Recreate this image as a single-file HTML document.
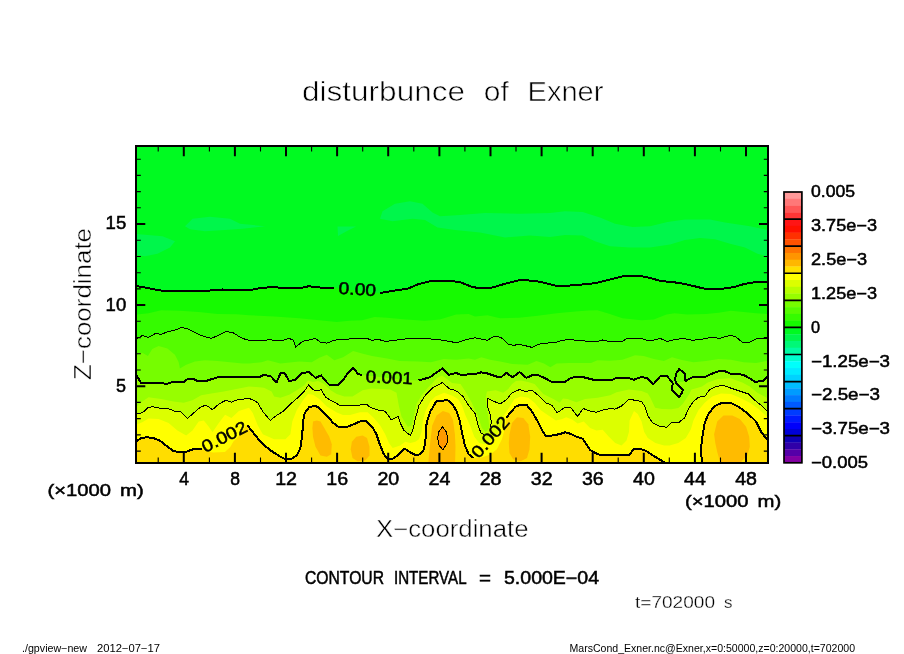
<!DOCTYPE html>
<html lang="en"><head><meta charset="utf-8"><title>disturbunce of Exner</title>
<style>html,body{margin:0;padding:0;background:#fff}body{width:904px;height:654px;overflow:hidden}svg{display:block}text{font-family:"Liberation Sans", sans-serif;fill:#000}.t1{stroke:#fff;stroke-width:.6px}.t2{stroke:#fff;stroke-width:.45px}.t3{stroke:#fff;stroke-width:.3px}.b{stroke:#000;stroke-width:.5px}.lab{font-size:17px;stroke:#000;stroke-width:.5px}</style>
</head><body>
<svg width="904" height="654" viewBox="0 0 904 654">
<rect width="904" height="654" fill="#fff"/>
<defs><clipPath id="pc"><rect x="136" y="146" width="632" height="317"/></clipPath></defs>
<g clip-path="url(#pc)" stroke-linejoin="round" stroke-linecap="butt">
<rect x="130" y="140" width="645" height="330" fill="#00fa21"/>
<path d="M135.0,233.8L162.5,236.2L175.0,241.2L170.0,247.5L157.5,253.8L145.0,256.2L135.0,255.0Z" fill="#00f64b"/>
<path d="M185.0,226.2L192.5,218.8L210.0,216.8L230.0,218.8L240.0,223.8L265.0,226.2L242.5,228.8L225.0,230.0L205.0,231.2L190.0,229.2Z" fill="#00f64b"/>
<path d="M337.5,226.5L356.0,226.5L347.0,231.0L338.0,236.0Z" fill="#00f64b"/>
<path d="M380.0,218.8L382.5,211.2L395.0,203.8L410.0,201.2L422.5,203.8L432.5,212.5L440.0,216.2L460.0,215.0L485.0,213.0L520.0,213.8L550.0,213.0L565.0,211.2L582.5,212.0L600.0,217.5L615.0,223.8L632.5,227.0L650.0,226.2L667.5,222.0L685.0,219.5L710.0,219.5L725.0,222.5L750.0,226.2L770.0,230.5L770.0,257.0L757.5,253.8L745.0,247.5L730.0,243.8L715.0,239.2L700.0,238.0L685.0,240.0L670.0,244.5L650.0,247.5L630.0,247.5L610.0,246.2L595.0,241.2L582.5,235.5L565.0,235.0L550.0,237.0L530.0,235.5L505.0,237.5L480.0,232.5L455.0,230.0L437.5,227.5L425.0,220.0L412.5,218.8L392.5,221.2Z" fill="#00f64b"/>
<path d="M130.0,286.2L137.0,286.2L145.0,287.5L155.0,289.5L165.0,291.2L180.0,290.8L195.0,291.2L210.0,290.5L222.5,289.5L230.0,290.5L250.0,290.0L260.0,288.2L272.5,287.0L285.0,288.2L300.0,288.2L308.8,286.2L320.0,287.5L333.8,287.5L345.0,289.0L360.0,291.0L370.0,292.5L380.0,293.0L395.0,290.5L407.5,288.8L417.5,284.5L430.0,281.2L447.5,280.8L460.0,282.0L470.0,286.2L477.5,288.0L492.5,287.5L505.0,283.8L520.0,280.0L535.0,280.8L545.0,283.0L556.0,285.8L565.0,285.8L577.5,285.0L595.0,283.2L610.0,279.5L625.0,275.8L640.0,275.8L650.0,278.0L660.0,280.8L680.0,283.0L692.5,285.8L705.0,288.8L722.5,288.8L735.0,286.8L745.0,283.8L757.5,281.8L767.0,282.5L775.0,282.5L775.0,475.0L130.0,475.0Z" fill="#16fa00"/>
<path d="M130.0,314.5L137.0,314.5L148.5,313.3L161.1,310.2L179.9,310.8L198.7,312.0L217.6,313.9L236.4,314.3L249.0,315.2L274.1,316.4L299.2,318.3L324.3,320.8L336.8,322.1L349.4,320.8L362.0,320.2L374.5,317.1L387.1,317.7L405.9,319.6L424.7,320.8L439.8,319.6L456.1,314.5L468.7,313.9L475.0,316.4L487.5,315.2L500.1,318.3L518.9,317.7L537.7,315.8L556.6,313.3L575.4,311.4L588.0,310.5L597.4,310.2L609.9,313.9L622.5,318.3L641.3,320.2L653.8,319.6L666.4,314.5L674.5,313.3L687.1,314.5L705.9,313.9L718.5,312.7L731.0,310.8L743.6,312.0L756.1,313.3L767.0,313.9L775.0,313.9L775.0,475.0L130.0,475.0Z" fill="#35fb00"/>
<path d="M130.0,338.4L137.0,338.4L142.3,335.6L148.5,337.5L155.4,333.4L161.1,334.4L167.4,331.9L174.9,330.2L181.2,327.5L187.4,328.6L193.7,331.9L201.2,335.6L211.3,338.4L218.8,335.2L225.7,331.5L232.6,332.5L240.1,337.1L245.2,339.3L249.0,340.3L266.6,340.3L267.8,339.3L274.1,340.3L284.1,340.0L289.2,338.4L293.5,340.3L295.7,347.2L302.3,341.5L309.2,339.9L315.5,338.4L320.5,342.2L326.8,343.2L331.8,341.1L338.1,339.4L349.4,339.0L351.9,338.4L362.0,338.4L367.0,338.4L372.0,340.3L378.3,339.4L385.8,341.5L393.4,340.3L400.9,339.6L408.4,338.4L424.7,338.6L437.3,339.4L446.1,340.9L454.8,342.4L459.9,341.9L466.1,339.6L475.0,337.8L481.3,339.0L487.5,340.3L493.8,336.5L500.1,337.1L503.9,339.6L508.2,344.4L513.9,345.3L518.9,344.4L525.2,345.7L532.1,347.4L537.7,344.7L542.8,343.2L554.0,342.8L562.8,340.3L569.1,339.3L575.4,340.3L586.1,341.1L598.6,341.1L602.4,340.0L607.4,341.1L622.5,341.1L627.5,338.4L641.3,338.4L646.3,340.0L653.8,340.0L660.1,338.4L667.0,341.5L674.5,339.6L683.3,338.4L692.1,340.3L703.4,339.0L712.2,337.1L719.7,338.4L730.4,335.2L736.0,337.1L742.3,342.2L749.8,342.2L756.1,338.8L767.0,338.1L775.0,338.1L775.0,475.0L130.0,475.0Z" fill="#55fc00"/>
<path d="M130.0,354.7L137.0,354.7L142.3,352.8L147.9,355.9L152.3,349.0L158.6,345.9L167.4,348.4L174.9,354.7L178.7,362.2L179.9,368.5L186.2,364.7L195.0,361.6L205.0,360.3L217.6,361.0L230.1,362.2L242.6,363.5L249.0,363.5L261.5,362.2L267.8,360.3L280.4,363.5L299.2,361.6L311.7,362.2L319.3,357.8L326.8,354.7L334.3,360.3L343.1,357.2L353.1,350.9L362.0,353.4L372.0,355.9L387.1,358.5L399.6,361.0L418.5,361.6L431.0,362.2L443.6,359.1L456.1,359.7L468.7,358.5L475.0,359.7L481.3,357.2L490.1,359.7L500.1,361.6L512.6,364.1L527.7,364.7L536.5,361.0L544.0,363.5L550.3,367.2L556.6,363.5L569.1,362.9L578.5,362.9L591.1,362.9L597.4,360.3L609.9,360.7L622.5,359.7L635.0,355.3L643.8,355.9L653.8,359.1L663.9,361.0L672.0,357.2L680.8,359.7L693.4,362.2L705.9,361.0L718.5,359.1L731.0,359.7L743.6,362.2L756.1,362.9L767.0,361.0L775.0,361.0L775.0,475.0L130.0,475.0Z" fill="#76fd00"/>
<path d="M130.0,376.0L137.0,376.0L141.0,382.9L148.5,382.9L152.3,383.5L161.1,382.9L166.1,384.0L173.6,381.7L183.7,382.3L187.4,379.2L193.7,379.2L197.5,381.0L206.3,381.0L211.3,379.2L218.8,377.0L231.4,376.7L249.0,377.0L260.3,376.7L263.4,375.1L270.3,375.8L276.6,382.3L280.4,373.5L284.8,373.3L289.2,381.0L295.4,379.8L301.7,373.3L309.2,372.0L315.5,377.9L321.1,375.4L326.8,382.3L329.5,385.0L338.1,385.0L343.1,379.8L348.1,372.9L353.5,367.9L358.2,374.1L362.0,375.1L380.0,377.0L400.0,379.5L418.5,380.4L429.8,377.3L436.0,372.9L442.3,368.5L448.6,374.8L456.1,372.9L461.1,374.8L475.0,374.1L481.3,372.3L487.5,373.5L498.8,377.3L501.3,377.0L506.4,372.9L512.6,377.3L519.5,372.0L526.4,377.9L532.7,375.0L539.0,375.4L545.3,378.5L552.8,382.3L564.1,382.3L571.0,377.9L578.5,376.7L583.6,377.3L593.6,379.8L612.4,379.8L616.2,377.9L628.7,377.9L633.7,379.8L641.3,376.9L647.5,378.5L653.2,384.5L660.7,375.7L667.0,376.1L672.7,382.9L684.8,381.4L692.1,377.4L704.7,377.3L710.9,374.1L717.2,371.6L724.7,371.0L729.8,373.5L737.3,374.1L743.6,374.8L749.8,378.5L754.8,381.7L762.4,381.3L767.0,377.3L775.0,377.3L775.0,475.0L130.0,475.0Z" fill="#97fe00"/>
<path d="M130.0,406.0L137.0,406.0L142.3,401.6L148.5,397.2L161.1,399.1L173.6,401.6L183.7,402.8L192.5,400.3L201.2,395.3L211.3,393.4L223.8,391.5L236.4,389.0L249.0,386.5L256.5,387.1L264.0,387.8L271.6,391.5L274.1,396.5L280.4,397.8L289.2,394.7L296.7,390.3L304.2,385.3L308.0,380.5L313.0,382.0L318.0,381.0L324.3,384.0L330.6,390.3L336.8,394.0L344.4,396.5L352.5,396.5L362.6,390.3L371.4,388.4L390.2,389.6L396.5,392.8L399.0,406.6L401.5,416.6L407.8,426.7L411.5,425.4L414.0,415.4L416.5,404.1L421.6,395.3L427.8,387.8L431.6,384.0L437.0,378.0L442.0,375.5L447.0,379.0L452.0,383.0L460.5,384.0L465.5,391.5L471.8,402.8L478.1,416.6L481.9,427.9L485.6,431.7L489.4,427.9L488.1,415.4L485.6,399.1L486.9,391.5L495.7,390.3L503.2,392.8L508.2,389.0L512.0,384.0L516.0,381.0L521.0,380.5L528.0,382.0L534.6,384.0L543.3,394.0L553.4,399.1L559.6,402.8L563.0,398.5L567.5,399.1L576.3,402.2L585.1,399.1L597.6,397.8L610.2,395.3L616.5,392.2L629.0,389.6L641.6,390.9L647.8,393.4L650.5,398.0L655.1,407.7L662.0,409.1L671.4,409.3L678.3,408.0L682.7,404.0L686.0,399.0L689.3,394.0L691.5,389.5L697.1,388.0L702.0,386.4L707.8,382.6L717.8,378.9L730.4,378.2L742.3,382.6L749.8,386.5L757.3,392.8L767.0,397.8L775.0,397.8L775.0,475.0L130.0,475.0Z" fill="#b9ff00"/>
<path d="M130.0,413.5L137.0,413.5L142.3,412.9L147.9,407.8L152.3,406.6L161.1,408.5L169.9,409.1L173.6,411.0L180.5,411.6L187.4,418.5L193.7,412.9L201.2,406.6L206.3,405.3L212.5,409.7L218.8,404.1L225.7,400.3L231.4,402.2L237.6,399.7L249.0,398.4L254.0,400.3L257.8,402.8L262.8,411.6L270.3,420.4L276.6,415.4L282.9,411.6L290.4,404.1L299.2,396.5L304.2,391.5L308.6,385.0L313.0,389.6L316.8,390.9L321.1,389.6L325.5,397.2L330.6,400.3L335.6,402.8L340.6,405.8L356.3,405.6L366.3,404.1L370.1,407.2L377.6,409.9L385.2,411.2L391.4,420.0L398.3,416.5L400.2,422.9L404.0,430.4L410.3,435.4L412.8,430.4L415.3,419.1L419.0,405.3L425.3,395.3L432.8,387.7L442.3,382.6L449.6,389.0L455.2,390.3L458.0,392.2L463.0,396.5L468.1,404.7L475.0,413.5L478.1,425.4L481.2,433.6L484.4,434.5L487.0,437.0L490.6,426.7L491.3,421.6L490.0,414.1L487.5,406.6L487.5,398.4L500.1,404.1L507.0,399.1L512.0,392.8L519.5,389.6L525.8,391.5L532.0,390.3L538.3,395.3L545.8,402.8L552.1,405.3L557.1,412.9L565.0,407.2L570.7,407.6L577.6,416.4L583.2,408.5L590.1,411.0L596.4,412.2L602.7,410.1L610.2,408.5L615.2,409.1L621.5,406.0L629.0,399.3L635.3,400.3L641.6,401.6L645.3,407.2L647.8,416.0L652.8,422.9L659.1,426.0L666.4,427.3L672.0,422.3L678.3,422.9L684.6,417.9L688.3,409.1L693.4,401.6L698.4,397.2L704.7,396.5L709.7,389.6L716.0,386.5L723.5,385.3L729.8,387.8L737.3,390.3L748.6,394.0L754.8,400.3L761.1,405.3L767.0,411.0L775.0,411.0L775.0,475.0L130.0,475.0Z" fill="#dcff00"/>
<path d="M130.0,424.2L137.0,424.2L142.3,422.3L148.5,418.5L158.6,419.1L168.6,422.9L177.4,430.4L186.2,435.4L192.5,430.4L198.7,421.6L203.8,420.4L208.8,426.7L212.5,432.3L218.8,422.9L225.1,414.7L231.4,417.9L238.9,411.0L249.0,407.8L252.8,412.9L257.8,425.4L262.8,434.2L274.1,439.2L285.4,439.2L290.4,434.2L292.3,421.6L296.7,410.3L303.0,400.3L308.0,394.0L313.0,394.7L319.3,399.1L326.8,406.6L336.8,412.5L343.0,415.0L350.0,415.0L360.0,412.3L367.6,412.2L373.9,417.9L380.2,425.4L385.2,434.2L388.9,443.0L392.7,448.0L400.2,445.5L405.2,441.7L410.3,443.0L415.3,441.7L419.0,439.2L421.6,431.7L422.8,421.6L425.3,411.6L430.3,401.6L435.4,396.5L444.1,392.8L453.0,396.0L458.0,399.1L461.8,405.3L465.5,415.4L470.6,426.7L474.3,436.7L479.3,443.0L484.4,444.2L490.0,441.0L495.7,436.7L500.7,427.9L503.2,416.6L508.2,409.1L514.5,399.1L520.8,396.5L528.3,397.8L534.6,402.8L540.8,410.3L548.4,415.4L555.9,420.4L562.2,419.1L566.3,417.2L572.5,419.8L577.6,423.5L583.8,421.6L590.1,427.9L596.4,430.4L602.7,429.8L608.9,436.7L615.2,443.0L621.5,445.5L626.5,440.5L629.0,431.7L629.6,420.4L634.0,411.0L637.8,414.1L641.6,421.6L644.1,431.7L647.8,437.9L655.4,443.0L664.1,445.5L669.5,445.5L678.3,443.0L685.8,437.9L690.9,429.2L693.4,420.4L698.4,410.3L704.7,402.8L712.2,396.5L721.0,393.4L731.0,394.0L739.8,397.8L749.8,402.8L758.6,409.1L767.0,416.6L775.0,416.6L775.0,475.0L130.0,475.0Z" fill="#ffff00"/>
<path d="M130.0,441.1L137.0,441.1L141.0,438.2L146.0,437.3L152.3,437.7L159.8,440.5L166.1,445.5L173.6,451.1L178.7,452.0L186.2,451.7L192.5,449.5L196.0,448.5L201.6,448.5L205.5,451.2L213.2,452.4L224.9,452.0L230.3,447.0L233.4,441.6L238.0,436.9L242.7,431.5L245.8,425.3L247.3,425.6L249.0,427.3L255.3,435.4L262.8,444.2L271.6,451.1L280.4,456.8L286.0,459.3L291.7,458.7L296.7,455.5L300.4,448.0L302.3,434.2L303.0,421.6L304.8,412.9L309.2,407.2L315.5,405.6L320.5,409.1L326.8,415.4L333.1,422.9L339.3,427.5L346.5,427.0L353.8,424.2L360.1,421.4L366.3,421.0L372.6,427.3L376.4,434.2L380.2,445.5L383.9,454.3L387.7,458.7L392.7,458.7L399.0,454.3L404.6,448.6L410.3,452.4L415.3,454.9L420.3,454.3L424.1,449.2L425.9,436.7L426.6,422.9L430.3,411.6L436.6,400.9L447.9,400.3L453.0,405.0L456.8,411.6L459.9,421.6L462.4,434.2L464.9,445.5L468.7,454.3L473.7,458.0L481.9,457.4L490.6,454.3L496.9,449.2L501.9,439.2L505.7,425.4L506.3,417.9L510.7,412.2L515.7,406.6L520.8,404.7L527.0,405.3L532.0,411.6L537.1,420.4L542.1,430.4L545.8,436.1L553.4,435.4L560.0,434.0L565.0,432.3L570.0,433.6L576.3,436.7L582.6,438.6L586.3,444.2L590.1,449.9L595.1,453.0L600.2,454.9L629.0,454.9L634.0,449.2L640.3,449.0L646.6,451.1L652.8,455.5L660.4,459.9L664.8,462.4L668.0,466.0L668.0,472.0L702.0,472.0L702.0,466.0L701.9,462.4L700.9,449.2L702.8,434.2L704.7,422.9L708.4,414.1L714.7,406.0L722.2,402.8L729.8,402.6L737.3,406.0L743.6,410.3L749.8,415.4L756.1,421.6L761.1,431.7L767.0,439.5L775.0,439.5L775.0,475.0L130.0,475.0Z" fill="#ffdd00"/>
<path d="M313.0,421.6L316.8,420.4L320.5,421.6L324.3,427.9L329.3,436.7L331.8,444.2L331.2,454.3L326.8,456.8L320.5,455.5L315.5,446.7L313.0,436.7L312.4,427.9Z" fill="#ffbb00"/>
<path d="M350.7,449.2L351.9,441.7L356.3,436.7L362.6,435.4L367.0,437.9L369.5,446.7L369.5,455.5L365.1,460.5L357.6,461.2L352.5,458.0Z" fill="#ffbb00"/>
<path d="M427.8,470.0L429.7,446.7L432.2,425.4L436.6,415.4L442.9,411.0L449.2,412.9L453.0,420.0L454.9,434.2L455.5,446.7L454.9,470.0Z" fill="#ffbb00"/>
<path d="M509.5,434.2L512.0,422.9L517.0,417.2L523.3,417.9L528.3,424.2L530.2,436.7L529.5,449.2L527.0,458.0L520.8,461.2L513.2,459.3L509.5,453.0L508.8,443.0Z" fill="#ffbb00"/>
<path d="M714.1,434.2L717.2,421.6L723.5,415.4L732.3,415.4L739.8,419.1L746.1,426.7L749.2,436.7L749.8,446.7L747.3,455.5L742.3,460.5L735.0,470.0L722.2,470.0L717.2,451.7L715.3,443.0Z" fill="#ffbb00"/>
<path d="M442.6,426.7L446.0,431.5L447.7,437.0L447.2,443.0L442.8,450.0L439.0,445.0L437.6,438.0L439.0,431.5Z" fill="#ff9900"/>
<g fill="none" stroke="#000" shape-rendering="crispEdges">
<path d="M134.0,286.2L137.0,286.2L145.0,287.5L155.0,289.5L165.0,291.2L180.0,290.8L195.0,291.2L210.0,290.5L222.5,289.5L230.0,290.5L250.0,290.0L260.0,288.2L272.5,287.0L285.0,288.2L300.0,288.2L308.8,286.2L320.0,287.5L333.8,287.5M380.0,293.0L395.0,290.5L407.5,288.8L417.5,284.5L430.0,281.2L447.5,280.8L460.0,282.0L470.0,286.2L477.5,288.0L492.5,287.5L505.0,283.8L520.0,280.0L535.0,280.8L545.0,283.0L556.0,285.8L565.0,285.8L577.5,285.0L595.0,283.2L610.0,279.5L625.0,275.8L640.0,275.8L650.0,278.0L660.0,280.8L680.0,283.0L692.5,285.8L705.0,288.8L722.5,288.8L735.0,286.8L745.0,283.8L757.5,281.8L767.0,282.5L770.0,282.5" stroke-width="2.0"/>
<path d="M134.0,338.4L137.0,338.4L142.3,335.6L148.5,337.5L155.4,333.4L161.1,334.4L167.4,331.9L174.9,330.2L181.2,327.5L187.4,328.6L193.7,331.9L201.2,335.6L211.3,338.4L218.8,335.2L225.7,331.5L232.6,332.5L240.1,337.1L245.2,339.3L249.0,340.3L266.6,340.3L267.8,339.3L274.1,340.3L284.1,340.0L289.2,338.4L293.5,340.3L295.7,347.2L302.3,341.5L309.2,339.9L315.5,338.4L320.5,342.2L326.8,343.2L331.8,341.1L338.1,339.4L349.4,339.0L351.9,338.4L362.0,338.4L367.0,338.4L372.0,340.3L378.3,339.4L385.8,341.5L393.4,340.3L400.9,339.6L408.4,338.4L424.7,338.6L437.3,339.4L446.1,340.9L454.8,342.4L459.9,341.9L466.1,339.6L475.0,337.8L481.3,339.0L487.5,340.3L493.8,336.5L500.1,337.1L503.9,339.6L508.2,344.4L513.9,345.3L518.9,344.4L525.2,345.7L532.1,347.4L537.7,344.7L542.8,343.2L554.0,342.8L562.8,340.3L569.1,339.3L575.4,340.3L586.1,341.1L598.6,341.1L602.4,340.0L607.4,341.1L622.5,341.1L627.5,338.4L641.3,338.4L646.3,340.0L653.8,340.0L660.1,338.4L667.0,341.5L674.5,339.6L683.3,338.4L692.1,340.3L703.4,339.0L712.2,337.1L719.7,338.4L730.4,335.2L736.0,337.1L742.3,342.2L749.8,342.2L756.1,338.8L767.0,338.1L770.0,338.1" stroke-width="1.0"/>
<path d="M134.0,376.0L137.0,376.0L141.0,382.9L148.5,382.9L152.3,383.5L161.1,382.9L166.1,384.0L173.6,381.7L183.7,382.3L187.4,379.2L193.7,379.2L197.5,381.0L206.3,381.0L211.3,379.2L218.8,377.0L231.4,376.7L249.0,377.0L260.3,376.7L263.4,375.1L270.3,375.8L276.6,382.3L280.4,373.5L284.8,373.3L289.2,381.0L295.4,379.8L301.7,373.3L309.2,372.0L315.5,377.9L321.1,375.4L326.8,382.3L329.5,385.0L338.1,385.0L343.1,379.8L348.1,372.9L353.5,367.9L358.2,374.1L362.0,375.1M418.5,380.4L429.8,377.3L436.0,372.9L442.3,368.5L448.6,374.8L456.1,372.9L461.1,374.8L475.0,374.1L481.3,372.3L487.5,373.5L498.8,377.3L501.3,377.0L506.4,372.9L512.6,377.3L519.5,372.0L526.4,377.9L532.7,375.0L539.0,375.4L545.3,378.5L552.8,382.3L564.1,382.3L571.0,377.9L578.5,376.7L583.6,377.3L593.6,379.8L612.4,379.8L616.2,377.9L628.7,377.9L633.7,379.8L641.3,376.9L647.5,378.5L653.2,384.5L660.7,375.7L667.0,376.1L672.7,382.9M684.8,381.4L692.1,377.4L704.7,377.3L710.9,374.1L717.2,371.6L724.7,371.0L729.8,373.5L737.3,374.1L743.6,374.8L749.8,378.5L754.8,381.7L762.4,381.3L767.0,377.3L770.0,377.3M672.7,382.9L672.0,390.1L678.9,397.0L681.4,393.9L683.0,390.1L675.8,382.9L675.2,378.9L676.4,373.2L679.2,369.1L684.6,373.2L684.8,381.4" stroke-width="2.0"/>
<path d="M134.0,413.5L137.0,413.5L142.3,412.9L147.9,407.8L152.3,406.6L161.1,408.5L169.9,409.1L173.6,411.0L180.5,411.6L187.4,418.5L193.7,412.9L201.2,406.6L206.3,405.3L212.5,409.7L218.8,404.1L225.7,400.3L231.4,402.2L237.6,399.7L249.0,398.4L254.0,400.3L257.8,402.8L262.8,411.6L270.3,420.4L276.6,415.4L282.9,411.6L290.4,404.1L299.2,396.5L304.2,391.5L308.6,385.0L313.0,389.6L316.8,390.9L321.1,389.6L325.5,397.2L330.6,400.3L335.6,402.8L340.6,405.8L356.3,405.6L366.3,404.1L370.1,407.2L377.6,409.9L385.2,411.2L391.4,420.0L398.3,416.5L400.2,422.9L404.0,430.4L410.3,435.4L412.8,430.4L415.3,419.1L419.0,405.3L425.3,395.3L432.8,387.7L442.3,382.6L449.6,389.0L455.2,390.3L458.0,392.2L463.0,396.5L468.1,404.7L475.0,413.5L478.1,425.4L481.2,433.6L484.4,434.5M490.6,426.7L491.3,421.6L490.0,414.1L487.5,406.6L487.5,398.4L500.1,404.1L507.0,399.1L512.0,392.8L519.5,389.6L525.8,391.5L532.0,390.3L538.3,395.3L545.8,402.8L552.1,405.3L557.1,412.9L565.0,407.2L570.7,407.6L577.6,416.4L583.2,408.5L590.1,411.0L596.4,412.2L602.7,410.1L610.2,408.5L615.2,409.1L621.5,406.0L629.0,399.3L635.3,400.3L641.6,401.6L645.3,407.2L647.8,416.0L652.8,422.9L659.1,426.0L666.4,427.3L672.0,422.3L678.3,422.9L684.6,417.9L688.3,409.1L693.4,401.6L698.4,397.2L704.7,396.5L709.7,389.6L716.0,386.5L723.5,385.3L729.8,387.8L737.3,390.3L748.6,394.0L754.8,400.3L761.1,405.3L767.0,411.0L770.0,411.0" stroke-width="1.0"/>
<path d="M134.0,441.1L137.0,441.1L141.0,438.2L146.0,437.3L152.3,437.7L159.8,440.5L166.1,445.5L173.6,451.1L178.7,452.0L186.2,451.7L192.5,449.5L196.0,448.5L201.6,448.5M247.3,425.6L249.0,427.3L255.3,435.4L262.8,444.2L271.6,451.1L280.4,456.8L286.0,459.3L291.7,458.7L296.7,455.5L300.4,448.0L302.3,434.2L303.0,421.6L304.8,412.9L309.2,407.2L315.5,405.6L320.5,409.1L326.8,415.4L333.1,422.9L339.3,427.5L346.5,427.0L353.8,424.2L360.1,421.4L366.3,421.0L372.6,427.3L376.4,434.2L380.2,445.5L383.9,454.3L387.7,458.7L392.7,458.7L399.0,454.3L404.6,448.6L410.3,452.4L415.3,454.9L420.3,454.3L424.1,449.2L425.9,436.7L426.6,422.9L430.3,411.6L436.6,400.9L447.9,400.3L453.0,405.0L456.8,411.6L459.9,421.6L462.4,434.2L464.9,445.5L468.7,454.3L473.7,458.0M506.3,417.9L510.7,412.2L515.7,406.6L520.8,404.7L527.0,405.3L532.0,411.6L537.1,420.4L542.1,430.4L545.8,436.1L553.4,435.4L560.0,434.0L565.0,432.3L570.0,433.6L576.3,436.7L582.6,438.6L586.3,444.2L590.1,449.9L595.1,453.0L600.2,454.9L629.0,454.9L634.0,449.2L640.3,449.0L646.6,451.1L652.8,455.5L660.4,459.9L664.8,462.4L668.0,466.0M702.0,466.0L701.9,462.4L700.9,449.2L702.8,434.2L704.7,422.9L708.4,414.1L714.7,406.0L722.2,402.8L729.8,402.6L737.3,406.0L743.6,410.3L749.8,415.4L756.1,421.6L761.1,431.7L767.0,439.5L770.0,439.5" stroke-width="2.0"/>
<path d="M442.6,426.7L446.0,431.5L447.7,437.0L447.2,443.0L442.8,450.0L439.0,445.0L437.6,438.0L439.0,431.5Z" stroke-width="1.0"/>
</g>
</g>
<text class="lab" transform="translate(357.5 288.8) rotate(3.5)" x="-18.8" y="6.1" textLength="37.5" lengthAdjust="spacingAndGlyphs" style="font-size:17px">0.00</text>
<text class="lab" transform="translate(389.3 377.2) rotate(2.5)" x="-23.5" y="6.1" textLength="47.0" lengthAdjust="spacingAndGlyphs" style="font-size:17px">0.001</text>
<text class="lab" transform="translate(224.1 436.5) rotate(-27.0)" x="-24.2" y="6.1" textLength="48.5" lengthAdjust="spacingAndGlyphs" style="font-size:17px">0.002</text>
<text class="lab" transform="translate(489.9 437.0) rotate(-49.0)" x="-24.2" y="6.1" textLength="48.5" lengthAdjust="spacingAndGlyphs" style="font-size:17px">0.002</text>
<g fill="none" stroke="#000">
<rect x="136" y="146" width="632" height="317" stroke-width="2"/>
<path d="M183.8,147V156.3M183.8,462V452.7M234.9,147V156.3M234.9,462V452.7M286.0,147V156.3M286.0,462V452.7M337.1,147V156.3M337.1,462V452.7M388.2,147V156.3M388.2,462V452.7M439.4,147V156.3M439.4,462V452.7M490.5,147V156.3M490.5,462V452.7M541.6,147V156.3M541.6,462V452.7M592.7,147V156.3M592.7,462V452.7M643.8,147V156.3M643.8,462V452.7M694.9,147V156.3M694.9,462V452.7M746.0,147V156.3M746.0,462V452.7M137,386.2H145.3M767,386.2H759M137,305.1H145.3M767,305.1H759M137,224.0H145.3M767,224.0H759" stroke-width="2"/>
<path d="M158.2,147V151.6M158.2,462V457.4M209.4,147V151.6M209.4,462V457.4M260.5,147V151.6M260.5,462V457.4M311.6,147V151.6M311.6,462V457.4M362.7,147V151.6M362.7,462V457.4M413.8,147V151.6M413.8,462V457.4M464.9,147V151.6M464.9,462V457.4M516.0,147V151.6M516.0,462V457.4M567.1,147V151.6M567.1,462V457.4M618.2,147V151.6M618.2,462V457.4M669.3,147V151.6M669.3,462V457.4M720.5,147V151.6M720.5,462V457.4M137,451.1H140.8M767,451.1H763.8M137,434.9H140.8M767,434.9H763.8M137,418.6H140.8M767,418.6H763.8M137,402.4H140.8M767,402.4H763.8M137,370.0H140.8M767,370.0H763.8M137,353.8H140.8M767,353.8H763.8M137,337.6H140.8M767,337.6H763.8M137,321.3H140.8M767,321.3H763.8M137,288.9H140.8M767,288.9H763.8M137,272.7H140.8M767,272.7H763.8M137,256.5H140.8M767,256.5H763.8M137,240.3H140.8M767,240.3H763.8M137,207.8H140.8M767,207.8H763.8M137,191.6H140.8M767,191.6H763.8M137,175.4H140.8M767,175.4H763.8M137,159.2H140.8M767,159.2H763.8" stroke-width="1.1"/>
</g>
<text x="184.1" y="485.0" text-anchor="middle" style="font-size:17.5px" class="b">4</text>
<text x="235.2" y="485.0" text-anchor="middle" style="font-size:17.5px" class="b">8</text>
<text x="275.2" y="485.0" text-anchor="start" style="font-size:17.5px" textLength="21.8" lengthAdjust="spacingAndGlyphs" class="b">12</text>
<text x="326.3" y="485.0" text-anchor="start" style="font-size:17.5px" textLength="21.8" lengthAdjust="spacingAndGlyphs" class="b">16</text>
<text x="377.4" y="485.0" text-anchor="start" style="font-size:17.5px" textLength="21.8" lengthAdjust="spacingAndGlyphs" class="b">20</text>
<text x="428.6" y="485.0" text-anchor="start" style="font-size:17.5px" textLength="21.8" lengthAdjust="spacingAndGlyphs" class="b">24</text>
<text x="479.7" y="485.0" text-anchor="start" style="font-size:17.5px" textLength="21.8" lengthAdjust="spacingAndGlyphs" class="b">28</text>
<text x="530.8" y="485.0" text-anchor="start" style="font-size:17.5px" textLength="21.8" lengthAdjust="spacingAndGlyphs" class="b">32</text>
<text x="581.9" y="485.0" text-anchor="start" style="font-size:17.5px" textLength="21.8" lengthAdjust="spacingAndGlyphs" class="b">36</text>
<text x="633.0" y="485.0" text-anchor="start" style="font-size:17.5px" textLength="21.8" lengthAdjust="spacingAndGlyphs" class="b">40</text>
<text x="684.1" y="485.0" text-anchor="start" style="font-size:17.5px" textLength="21.8" lengthAdjust="spacingAndGlyphs" class="b">44</text>
<text x="735.2" y="485.0" text-anchor="start" style="font-size:17.5px" textLength="21.8" lengthAdjust="spacingAndGlyphs" class="b">48</text>
<text x="105.6" y="229.3" text-anchor="start" style="font-size:17.5px" textLength="20.6" lengthAdjust="spacingAndGlyphs" class="b">15</text>
<text x="105.6" y="310.8" text-anchor="start" style="font-size:17.5px" textLength="20.6" lengthAdjust="spacingAndGlyphs" class="b">10</text>
<text x="116.0" y="391.6" text-anchor="start" style="font-size:17.5px" textLength="10.0" lengthAdjust="spacingAndGlyphs" class="b">5</text>
<text y="496.3" style="font-size:17px" class="b"><tspan x="47.5" textLength="63.5" lengthAdjust="spacingAndGlyphs">(×1000</tspan> <tspan x="120.0" textLength="23.7" lengthAdjust="spacingAndGlyphs">m)</tspan></text>
<text y="507.3" style="font-size:17px" class="b"><tspan x="685.0" textLength="63.5" lengthAdjust="spacingAndGlyphs">(×1000</tspan> <tspan x="757.5" textLength="23.7" lengthAdjust="spacingAndGlyphs">m)</tspan></text>
<text y="101.2" style="font-size:28px" class="t1"><tspan x="302.0" textLength="163.0" lengthAdjust="spacingAndGlyphs">disturbunce</tspan> <tspan x="483.8" textLength="25.0" lengthAdjust="spacingAndGlyphs">of</tspan> <tspan x="527.5" textLength="76.0" lengthAdjust="spacingAndGlyphs">Exner</tspan></text>
<text x="376.0" y="536.8" text-anchor="start" style="font-size:23px" textLength="152.5" lengthAdjust="spacingAndGlyphs" class="t2">X−coordinate</text>
<text transform="translate(90.7 380) rotate(-90)" x="0" y="0" textLength="152" lengthAdjust="spacingAndGlyphs" class="t2" style="font-size:23px">Z−coordinate</text>
<text y="583.5" style="font-size:18px" class="b"><tspan x="305.0" textLength="79.0" lengthAdjust="spacingAndGlyphs">CONTOUR</tspan> <tspan x="394.0" textLength="72.0" lengthAdjust="spacingAndGlyphs">INTERVAL</tspan> <tspan x="479.0" textLength="12.0" lengthAdjust="spacingAndGlyphs">=</tspan> <tspan x="504.0" textLength="95.0" lengthAdjust="spacingAndGlyphs">5.000E−04</tspan></text>
<text y="608.0" style="font-size:17px" class="t3"><tspan x="635.0" textLength="80.0" lengthAdjust="spacingAndGlyphs">t=702000</tspan> <tspan x="724.0" textLength="8.5" lengthAdjust="spacingAndGlyphs">s</tspan></text>
<text y="651.7" style="font-size:10px"><tspan x="22.0" textLength="65.0" lengthAdjust="spacingAndGlyphs">./gpview−new</tspan> <tspan x="97.0" textLength="63.0" lengthAdjust="spacingAndGlyphs">2012−07−17</tspan></text>
<text x="569.5" y="651.7" text-anchor="start" style="font-size:10px" textLength="285.5" lengthAdjust="spacingAndGlyphs">MarsCond_Exner.nc@Exner,x=0:50000,z=0:20000,t=702000</text>
<rect x="784.0" y="192.00" width="17.9" height="7.07" fill="#ff9999"/>
<rect x="784.0" y="198.77" width="17.9" height="7.07" fill="#ff7878"/>
<rect x="784.0" y="205.54" width="17.9" height="7.07" fill="#ff5757"/>
<rect x="784.0" y="212.31" width="17.9" height="7.07" fill="#ff3636"/>
<rect x="784.0" y="219.08" width="17.9" height="7.07" fill="#ff1515"/>
<rect x="784.0" y="225.85" width="17.9" height="7.07" fill="#ff1000"/>
<rect x="784.0" y="232.62" width="17.9" height="7.07" fill="#ff3100"/>
<rect x="784.0" y="239.39" width="17.9" height="7.07" fill="#ff5200"/>
<rect x="784.0" y="246.16" width="17.9" height="7.07" fill="#ff7400"/>
<rect x="784.0" y="252.93" width="17.9" height="7.07" fill="#ff9500"/>
<rect x="784.0" y="259.70" width="17.9" height="7.07" fill="#ffb700"/>
<rect x="784.0" y="266.47" width="17.9" height="7.07" fill="#ffe000"/>
<rect x="784.0" y="273.24" width="17.9" height="7.07" fill="#ffff00"/>
<rect x="784.0" y="280.01" width="17.9" height="7.07" fill="#dcff00"/>
<rect x="784.0" y="286.78" width="17.9" height="7.07" fill="#b9ff00"/>
<rect x="784.0" y="293.55" width="17.9" height="7.07" fill="#97fe00"/>
<rect x="784.0" y="300.32" width="17.9" height="7.07" fill="#76fd00"/>
<rect x="784.0" y="307.09" width="17.9" height="7.07" fill="#55fc00"/>
<rect x="784.0" y="313.86" width="17.9" height="7.07" fill="#35fb00"/>
<rect x="784.0" y="320.63" width="17.9" height="7.07" fill="#16fa00"/>
<rect x="784.0" y="327.40" width="17.9" height="7.07" fill="#00fa21"/>
<rect x="784.0" y="334.17" width="17.9" height="7.07" fill="#00f64b"/>
<rect x="784.0" y="340.94" width="17.9" height="7.07" fill="#00f877"/>
<rect x="784.0" y="347.71" width="17.9" height="7.07" fill="#00fba3"/>
<rect x="784.0" y="354.48" width="17.9" height="7.07" fill="#00fdcf"/>
<rect x="784.0" y="361.25" width="17.9" height="7.07" fill="#00fffb"/>
<rect x="784.0" y="368.02" width="17.9" height="7.07" fill="#00ebff"/>
<rect x="784.0" y="374.79" width="17.9" height="7.07" fill="#00d2ff"/>
<rect x="784.0" y="381.56" width="17.9" height="7.07" fill="#00bdff"/>
<rect x="784.0" y="388.33" width="17.9" height="7.07" fill="#009cff"/>
<rect x="784.0" y="395.10" width="17.9" height="7.07" fill="#007bff"/>
<rect x="784.0" y="401.87" width="17.9" height="7.07" fill="#005aff"/>
<rect x="784.0" y="408.64" width="17.9" height="7.07" fill="#003cff"/>
<rect x="784.0" y="415.41" width="17.9" height="7.07" fill="#001bff"/>
<rect x="784.0" y="422.18" width="17.9" height="7.07" fill="#0000fb"/>
<rect x="784.0" y="428.95" width="17.9" height="7.07" fill="#0000d8"/>
<rect x="784.0" y="435.72" width="17.9" height="7.07" fill="#1000b4"/>
<rect x="784.0" y="442.49" width="17.9" height="7.07" fill="#3000a8"/>
<rect x="784.0" y="449.26" width="17.9" height="7.07" fill="#5500a8"/>
<rect x="784.0" y="456.03" width="17.9" height="7.07" fill="#8300a3"/>
<path d="M784.0,219.08H801.9M784.0,246.16H801.9M784.0,273.24H801.9M784.0,300.32H801.9M784.0,327.40H801.9M784.0,354.48H801.9M784.0,381.56H801.9M784.0,408.64H801.9M784.0,435.72H801.9" stroke="#000" stroke-width="1.7" fill="none"/>
<rect x="784.0" y="192.0" width="17.9" height="270.8" fill="none" stroke="#000" stroke-width="1.7"/>
<text x="811.0" y="197.0" text-anchor="start" style="font-size:16.3px" textLength="44.0" lengthAdjust="spacingAndGlyphs" class="b">0.005</text>
<text x="811.0" y="230.9" text-anchor="start" style="font-size:16.3px" textLength="66.0" lengthAdjust="spacingAndGlyphs" class="b">3.75e−3</text>
<text x="811.0" y="264.8" text-anchor="start" style="font-size:16.3px" textLength="56.0" lengthAdjust="spacingAndGlyphs" class="b">2.5e−3</text>
<text x="811.0" y="298.7" text-anchor="start" style="font-size:16.3px" textLength="66.0" lengthAdjust="spacingAndGlyphs" class="b">1.25e−3</text>
<text x="811.0" y="332.6" text-anchor="start" style="font-size:16.3px" class="b">0</text>
<text x="811.0" y="366.5" text-anchor="start" style="font-size:16.3px" textLength="79.0" lengthAdjust="spacingAndGlyphs" class="b">−1.25e−3</text>
<text x="811.0" y="400.4" text-anchor="start" style="font-size:16.3px" textLength="69.0" lengthAdjust="spacingAndGlyphs" class="b">−2.5e−3</text>
<text x="811.0" y="434.3" text-anchor="start" style="font-size:16.3px" textLength="79.0" lengthAdjust="spacingAndGlyphs" class="b">−3.75e−3</text>
<text x="811.0" y="468.2" text-anchor="start" style="font-size:16.3px" textLength="57.0" lengthAdjust="spacingAndGlyphs" class="b">−0.005</text>
</svg></body></html>
